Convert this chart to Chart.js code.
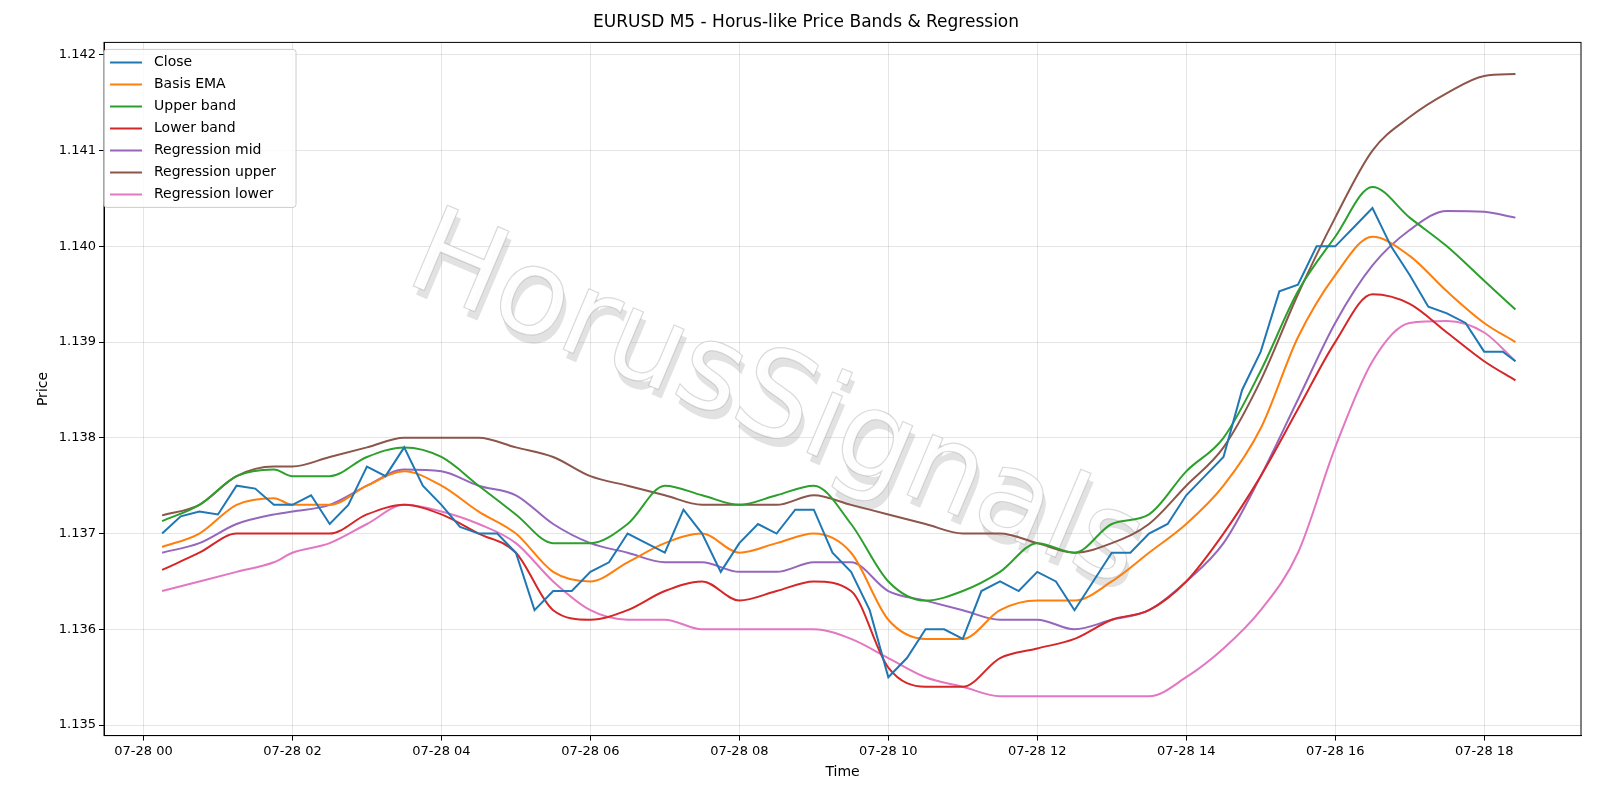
<!DOCTYPE html>
<html><head><meta charset="utf-8">
<script src="https://cdn.jsdelivr.net/npm/chart.js@4"></script>
<style>body{margin:0;background:#fff}#w{width:1600px;height:800px}</style></head>
<body><div id="w"><canvas id="c"></canvas></div>
<script>
const closeVals=[1.1370,1.13718,1.13723,1.1372,1.1375,1.13747,1.1373,1.1373,1.1374,1.1371,1.1373,1.1377,1.1376,1.1379,1.1375,1.1373,1.13707,1.1370,1.1370,1.1368,1.1362,1.1364,1.1364,1.1366,1.1367,1.1370,1.1369,1.1368,1.13725,1.1370,1.1366,1.1369,1.1371,1.1370,1.13725,1.13725,1.1368,1.1366,1.1362,1.1355,1.1357,1.1360,1.1360,1.1359,1.1364,1.1365,1.1364,1.1366,1.1365,1.1362,1.1365,1.1368,1.1368,1.1370,1.1371,1.1374,1.1376,1.1378,1.1385,1.1389,1.13953,1.1396,1.1400,1.1400,1.1402,1.1404,1.1400,1.1397,1.13937,1.1393,1.1392,1.1389,1.1389,1.1388];
const basisVals=[1.13686,1.1370,1.1373,1.13737,1.1373,1.1373,1.1375,1.13765,1.1375,1.13723,1.1370,1.1366,1.1365,1.1367,1.1369,1.1370,1.1368,1.1369,1.1370,1.1368,1.1361,1.1359,1.1359,1.1362,1.1363,1.1363,1.1365,1.1368,1.1371,1.1375,1.1381,1.13905,1.1397,1.1401,1.1399,1.13953,1.1392,1.1390];
const upperVals=[1.13713,1.1373,1.1376,1.13767,1.1376,1.1376,1.1378,1.1379,1.1378,1.1375,1.1372,1.1369,1.1369,1.1371,1.1375,1.1374,1.1373,1.1374,1.1375,1.1371,1.1365,1.1363,1.1364,1.1366,1.1369,1.1368,1.1371,1.1372,1.13765,1.1380,1.1387,1.13953,1.1401,1.14062,1.1403,1.1400,1.13964,1.13934];
const lowerVals=[1.13662,1.1368,1.1370,1.1370,1.1370,1.1370,1.1372,1.1373,1.1372,1.1370,1.1368,1.1362,1.1361,1.1362,1.1364,1.1365,1.1363,1.1364,1.1365,1.1364,1.1356,1.1354,1.1354,1.1357,1.1358,1.1359,1.1361,1.1362,1.1365,1.1370,1.1376,1.1383,1.1390,1.1395,1.1394,1.1391,1.1388,1.1386];
const regMidVals=[1.1368,1.1369,1.1371,1.1372,1.13723,1.1373,1.1375,1.13767,1.13765,1.1375,1.1374,1.1371,1.1369,1.1368,1.1367,1.1367,1.1366,1.1366,1.1367,1.1367,1.1364,1.1363,1.1362,1.1361,1.1361,1.1360,1.1361,1.1362,1.1365,1.1369,1.1376,1.1384,1.1392,1.1398,1.14017,1.14037,1.14036,1.1403];
const regUpVals=[1.13719,1.1373,1.1376,1.1377,1.1377,1.1378,1.1379,1.1380,1.1380,1.1380,1.1379,1.1378,1.1376,1.1375,1.1374,1.1373,1.1373,1.1373,1.1374,1.1373,1.1372,1.1371,1.1370,1.1370,1.1369,1.1368,1.1369,1.1371,1.1375,1.1379,1.1386,1.1395,1.1403,1.1410,1.14135,1.1416,1.14178,1.1418];
const regLoVals=[1.1364,1.1365,1.1366,1.1367,1.1368,1.1369,1.1371,1.1373,1.13723,1.1371,1.1369,1.1365,1.1362,1.1361,1.1361,1.1360,1.1360,1.1360,1.1360,1.1359,1.1357,1.1355,1.1354,1.1353,1.1353,1.1353,1.1353,1.1353,1.1355,1.1358,1.1362,1.1368,1.1379,1.1388,1.1392,1.13922,1.1391,1.1388];
const xTicks=[0,2,4,6,8,10,12,14,16,18];
const yTicks=[1.135,1.136,1.137,1.138,1.139,1.140,1.141,1.142];
const closeTimes=[];for(let i=1;i<=73;i++)closeTimes.push(i*0.25);closeTimes.push(18.42);
const smoothTimes=[0.25,0.75,1.25,1.75];for(let h=2;h<=18;h+=0.5)smoothTimes.push(h);smoothTimes.push(18.42);
const pts=(t,v)=>v.map((y,i)=>({x:t[i],y}));
const series=[["Close",closeVals,closeTimes,"#1f77b4"],["Basis EMA",basisVals,smoothTimes,"#ff7f0e"],["Upper band",upperVals,smoothTimes,"#2ca02c"],["Lower band",lowerVals,smoothTimes,"#d62728"],["Regression mid",regMidVals,smoothTimes,"#9467bd"],["Regression upper",regUpVals,smoothTimes,"#8c564b"],["Regression lower",regLoVals,smoothTimes,"#e377c2"]];
const F="'DejaVu Sans'";
const wm={id:'wm',beforeDatasetsDraw(ch){const c=ch.ctx;c.save();c.translate(775,405);c.rotate(0.40);c.font="120px "+F;c.textAlign='center';c.textBaseline='middle';
c.fillStyle='rgba(160,160,160,0.3)';c.fillText('HorusSignals',6,7);c.fillStyle='rgba(255,255,255,0.95)';c.fillText('HorusSignals',0,0);c.strokeStyle='rgba(150,150,150,0.35)';c.lineWidth=1.2;c.strokeText('HorusSignals',0,0);c.restore();}};
const frame={id:'frame',afterDatasetsDraw(ch){const c=ch.ctx,a=ch.chartArea;c.save();c.strokeStyle='#000';c.lineWidth=1;c.strokeRect(a.left,a.top,a.right-a.left,a.bottom-a.top);c.restore();}};
const leg={id:'leg',afterDraw(ch){const c=ch.ctx,a=ch.chartArea;c.save();const x=a.left+0,y=a.top+7;c.fillStyle='rgba(255,255,255,0.8)';c.strokeStyle='#ccc';c.lineWidth=1;
c.beginPath();c.roundRect(a.left+0,y,192,158,3);c.fill();c.stroke();c.font="14px "+F;c.textBaseline='middle';
series.forEach((s,i)=>{const yy=y+13+i*22;c.strokeStyle=s[3];c.lineWidth=2;c.beginPath();c.moveTo(x+6,yy);c.lineTo(x+38,yy);c.stroke();c.fillStyle='#000';c.fillText(s[0],x+50,yy);});c.restore();}};
new Chart(document.getElementById('c'),{type:'line',
data:{datasets:series.map((s,i)=>({label:s[0],data:pts(s[2],s[1]),borderColor:s[3],borderWidth:2,pointRadius:0,tension:i==0?0:0.35,cubicInterpolationMode:i==0?'default':'monotone'}))},
options:{responsive:true,maintainAspectRatio:false,animation:false,
layout:{padding:{left:31,right:19,top:4,bottom:15}},
plugins:{legend:{display:false},tooltip:{enabled:false},title:{display:true,text:'EURUSD M5 - Horus-like Price Bands & Regression',color:'#000',font:{family:F,size:17,weight:'normal'},padding:{top:8,bottom:10}}},
scales:{x:{type:'linear',min:-0.53,max:19.3,afterBuildTicks(ax){ax.ticks=xTicks.map(v=>({value:v}));},
ticks:{color:'#000',font:{family:F,size:13},maxRotation:0,callback:v=>'07-28 '+String(v).padStart(2,'0')},
grid:{color:'rgba(0,0,0,0.1)',tickColor:'#000',tickLength:5},border:{color:'#000'},title:{display:true,text:'Time',color:'#000',font:{family:F,size:14},padding:{top:2}}},
y:{min:1.13489,max:1.14213,afterBuildTicks(ax){ax.ticks=yTicks.map(v=>({value:v}));},
ticks:{color:'#000',font:{family:F,size:13},callback:v=>v.toFixed(3)},
grid:{color:'rgba(0,0,0,0.1)',tickColor:'#000',tickLength:5},border:{color:'#000'},title:{display:true,text:'Price',color:'#000',font:{family:F,size:14}}}}},
plugins:[wm,frame,leg]});
</script></body></html>
